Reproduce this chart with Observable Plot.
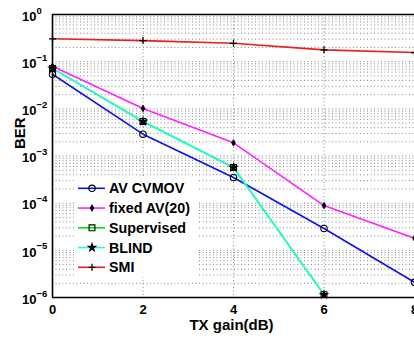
<!DOCTYPE html>
<html><head><meta charset="utf-8">
<script src="https://cdn.jsdelivr.net/npm/d3@7"></script>
<script src="https://cdn.jsdelivr.net/npm/@observablehq/plot@0.6"></script>
<style>
body{margin:0;background:#fff;overflow:hidden}
svg{font-family:"Liberation Sans",Arial,sans-serif}
</style>
</head><body><div id="chart"></div>
<script>
// ---- data ----
const gains = [0, 2, 4, 6, 8];
const avCvmov    = [0.054, 0.0029, 3.5e-4, 2.9e-5, 2.1e-6];
const fixedAv    = [0.080, 0.0102, 0.0019, 8.9e-5, 1.8e-5];
const supervised = [0.072, 0.0054, 5.7e-4, 1.15e-6, null];
const blind      = [0.072, 0.0054, 5.7e-4, 1.15e-6, null];
const smi        = [0.305, 0.28, 0.245, 0.178, 0.156];

const seriesNames = ["AV CVMOV", "fixed AV(20)", "Supervised", "BLIND", "SMI"];
const seriesColors = ["#1010f0", "#ff22ff", "#00e000", "#20ffe0", "#ee1c1c"];
const seriesSymbols = ["circle", "diamond", "square", "star", "plus"];
const seriesValues = [avCvmov, fixedAv, supervised, blind, smi];

const xTicks = [0, 2, 4, 6, 8];
const xGrid = [2, 4, 6];
const yDecades = [1, 1e-1, 1e-2, 1e-3, 1e-4, 1e-5, 1e-6];
const yExponents = ["0", "\u22121", "\u22122", "\u22123", "\u22124", "\u22125", "\u22126"];
const yGrid = d3.scaleLog().domain([1e-6, 1]).ticks();

const rows = (vals) => gains.map((g, i) => ({x: g, y: vals[i]})).filter(d => d.y != null);

const symbolStyle = {
  circle:  {fill: "none", stroke: "black", r: 3.2, strokeWidth: 1.1},
  diamond: {fill: "black", stroke: "black", r: 2.0, strokeWidth: 0.8},
  square:  {fill: "none", stroke: "black", r: 3.3, strokeWidth: 1.1},
  star:    {fill: "black", stroke: "none", r: 3.4, strokeWidth: 0},
  plus:    {fill: "none", stroke: "black", r: 2.4, strokeWidth: 1.3}
};

const marks = [
  Plot.ruleY(yGrid, {y: d => d, stroke: "#888", strokeDasharray: "1,2.5", strokeWidth: 1}),
  Plot.ruleX(xGrid, {x: d => d, stroke: "#888", strokeDasharray: "1,2.5", strokeWidth: 1}),
];
seriesValues.forEach((vals, i) => {
  marks.push(Plot.line(rows(vals), {x: "x", y: "y", stroke: seriesColors[i], strokeWidth: 1.6}));
});
seriesValues.forEach((vals, i) => {
  const s = symbolStyle[seriesSymbols[i]];
  marks.push(Plot.dot(rows(vals), {x: "x", y: "y", symbol: seriesSymbols[i], r: s.r, fill: s.fill, stroke: s.stroke, strokeWidth: s.strokeWidth}));
});
marks.push(
  Plot.ruleX([0], {stroke: "black", strokeWidth: 1.6}),
  Plot.ruleY([1], {stroke: "black", strokeWidth: 1.6}),
  Plot.ruleY([1e-6], {stroke: "black", strokeWidth: 1.6}),
  Plot.text(xTicks, {x: d => d, text: d => String(d), frameAnchor: "bottom", dy: 16, fontSize: 13, fontWeight: "bold", fill: "black"}),
  Plot.text(yDecades, {y: d => d, text: () => "10", frameAnchor: "left", dx: -16, dy: 2, textAnchor: "end", fontSize: 13, fontWeight: "bold", fill: "black"}),
  Plot.text(yDecades, {y: d => d, text: (d, i) => yExponents[i], frameAnchor: "left", dx: -16, dy: -4, textAnchor: "start", fontSize: 9.5, fontWeight: "bold", fill: "black"}),
  Plot.text(["BER"], {text: d => d, frameAnchor: "left", dx: -32, dy: -7, rotate: -90, fontSize: 15, fontWeight: "bold", fill: "black"}),
  Plot.text(["TX gain(dB)"], {text: d => d, frameAnchor: "bottom", dx: -2, dy: 32, fontSize: 15, fontWeight: "bold", fill: "black"})
);

const chart = Plot.plot({
  width: 414,
  height: 341,
  marginLeft: 52,
  marginRight: 0,
  marginTop: 14,
  marginBottom: 44,
  x: {domain: [0, 8], axis: null},
  y: {type: "log", domain: [1e-6, 1], axis: null},
  style: {background: "white", overflow: "hidden"},
  marks
});
document.getElementById("chart").appendChild(chart);

// ---- legend (inside plot area) ----
const svg = d3.select(chart);
const lg = svg.append("g").attr("text-anchor", "start");
lg.append("rect").attr("x", 76).attr("y", 177).attr("width", 123).attr("height", 100)
  .attr("fill", "white").attr("stroke", "none");
const symType = {circle: d3.symbolCircle, diamond: d3.symbolDiamond, square: d3.symbolSquare, star: d3.symbolStar, plus: d3.symbolPlus};
seriesNames.forEach((name, i) => {
  const cy = 188.3 + i * 19.75;
  lg.append("line").attr("x1", 78).attr("x2", 105).attr("y1", cy).attr("y2", cy)
    .attr("stroke", seriesColors[i]).attr("stroke-width", 1.6);
  const s = symbolStyle[seriesSymbols[i]];
  lg.append("path").attr("transform", `translate(92,${cy})`)
    .attr("d", d3.symbol(symType[seriesSymbols[i]], Math.PI * s.r * s.r)())
    .attr("fill", s.fill).attr("stroke", s.stroke).attr("stroke-width", s.strokeWidth);
  lg.append("text").attr("x", 109).attr("y", cy).attr("dy", "0.36em")
    .attr("text-anchor", "start")
    .attr("font-size", 14.3).attr("font-weight", "bold").attr("fill", "black").text(name);
});
</script>
</body></html>
